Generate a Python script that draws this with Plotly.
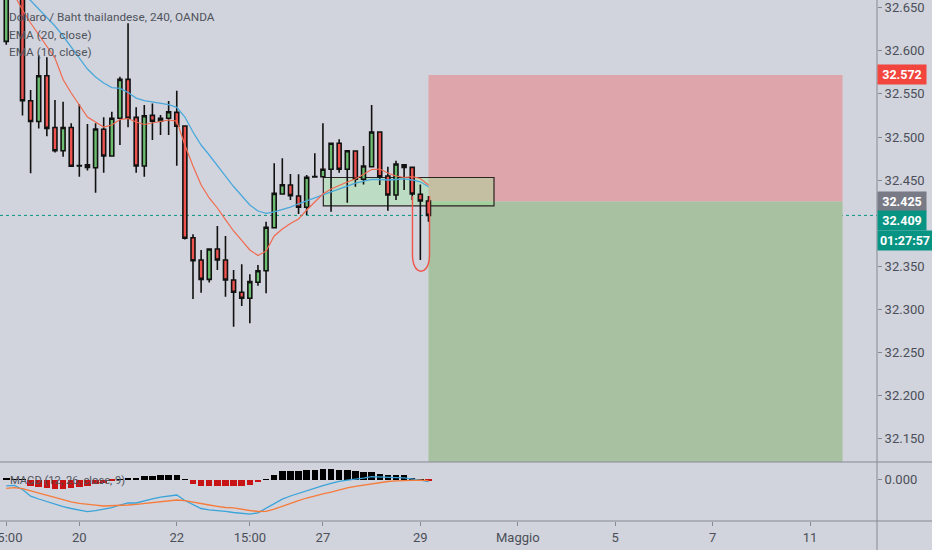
import plotly.graph_objects as go

# 4h candles, bar index 0 = 20 aprile 00:00
BAR_IDX = list(range(-9, 44))

OPEN = [32.611, 32.664, 32.676, 32.542, 32.518, 32.571, 32.511, 32.484, 32.511, 32.4665,
        32.4678, 32.4643, 32.509, 32.4779, 32.5217, 32.5669, 32.5228, 32.4663, 32.5251, 32.5185,
        32.5217, 32.5286, 32.5127, 32.3831, 32.3572, 32.3348, 32.370, 32.3572, 32.334, 32.3198,
        32.3128, 32.3314, 32.3448, 32.3947, 32.4338, 32.4443, 32.4315, 32.4184, 32.4535, 32.4539,
        32.4625, 32.4927, 32.4625, 32.4837, 32.4509, 32.4655, 32.5058, 32.4547, 32.4327, 32.4678,
        32.4648, 32.4335, 32.4257]
HIGH = [32.680, 32.690, 32.690, 32.5545, 32.595, 32.5925, 32.543, 32.541, 32.516, 32.538,
        32.515, 32.516, 32.5228, 32.5293, 32.570, 32.6319, 32.5344, 32.537, 32.539, 32.5255,
        32.5417, 32.5537, 32.5135, 32.387, 32.3688, 32.3705, 32.3967, 32.385, 32.3456, 32.3523,
        32.3407, 32.3514, 32.4017, 32.4695, 32.4752, 32.457, 32.4567, 32.4559, 32.481, 32.516,
        32.4935, 32.4973, 32.4845, 32.4840, 32.4895, 32.537, 32.5062, 32.4655, 32.4725, 32.4682,
        32.4652, 32.445, 32.4315]
LOW = [32.607, 32.661, 32.525, 32.458, 32.510, 32.501, 32.482, 32.477, 32.4655, 32.454,
       32.461, 32.4353, 32.4585, 32.4775, 32.4907, 32.5112, 32.4585, 32.454, 32.4965, 32.5023,
       32.5023, 32.4667, 32.381, 32.312, 32.3193, 32.331, 32.3456, 32.3147, 32.2798, 32.3039,
       32.2838, 32.3274, 32.3186, 32.394, 32.433, 32.4269, 32.4106, 32.4095, 32.453, 32.453,
       32.4133, 32.4585, 32.4237, 32.4423, 32.445, 32.465, 32.4443, 32.4144, 32.4269, 32.4385,
       32.4269, 32.3572, 32.4017]
CLOSE = [32.664, 32.676, 32.542, 32.518, 32.571, 32.510, 32.484, 32.511, 32.466, 32.4668,
         32.4648, 32.5093, 32.4779, 32.5217, 32.5669, 32.5217, 32.4663, 32.5247, 32.5182, 32.5217,
         32.5293, 32.5124, 32.3824, 32.3564, 32.3348, 32.370, 32.3572, 32.334, 32.3198, 32.3128,
         32.3321, 32.3448, 32.3952, 32.4346, 32.4446, 32.4319, 32.4184, 32.4532, 32.454, 32.4625,
         32.4927, 32.4625, 32.4841, 32.4509, 32.4663, 32.5058, 32.4539, 32.4327, 32.4686, 32.4648,
         32.4338, 32.4257, 32.409]

EMA20 = [32.6845, 32.6764, 32.6671, 32.6584, 32.6485, 32.6392, 32.6288, 32.6172, 32.6044, 32.5928,
         32.5789, 32.5696, 32.5626, 32.5574, 32.5565, 32.5516, 32.5452, 32.5423, 32.5406, 32.5394,
         32.5375, 32.5344, 32.5232, 32.5058, 32.4907, 32.4791, 32.4675, 32.4547, 32.4425, 32.4315,
         32.4211, 32.4141, 32.4114, 32.4130, 32.4158, 32.4187, 32.4225, 32.4257, 32.4292, 32.4327,
         32.4362, 32.4401, 32.4431, 32.4464, 32.4489, 32.4507, 32.4507, 32.4501, 32.4507, 32.4515,
         32.4501, 32.4480, 32.4423]
EMA10 = [32.6822, 32.6648, 32.6474, 32.6323, 32.6183, 32.6044, 32.5917, 32.5667, 32.5510, 32.5371,
         32.5232, 32.5174, 32.5116, 32.5139, 32.5203, 32.5214, 32.5174, 32.5145, 32.5165, 32.5180,
         32.5197, 32.5185, 32.4907, 32.4663, 32.4443, 32.4292, 32.4176, 32.4042, 32.3909, 32.3799,
         32.3689, 32.3625, 32.3677, 32.3851, 32.3932, 32.3996, 32.4048, 32.4153, 32.4246, 32.4338,
         32.4396, 32.4439, 32.4478, 32.4512, 32.4570, 32.4623, 32.4628, 32.4582, 32.4547, 32.4530,
         32.4539, 32.4518, 32.4443]

MACD = [-0.00252, -0.00232, -0.0040, -0.00668, -0.0078, -0.00884, -0.00996, -0.01084, -0.0116, -0.01228,
        -0.01288, -0.01244, -0.01188, -0.01128, -0.0102, -0.00932, -0.0094, -0.00844, -0.00772, -0.00708,
        -0.00652, -0.0062, -0.0084, -0.01012, -0.0116, -0.01212, -0.01232, -0.01276, -0.0132, -0.0136,
        -0.01388, -0.01332, -0.0114, -0.0096, -0.00784, -0.0066, -0.00552, -0.00452, -0.00356, -0.00248,
        -0.00156, -0.00072, -0.00024, 0.00008, 0.00056, 0.00112, 0.00092, 0.0008, 0.00076, 0.00064,
        0.00032, -0.00024, -0.00088]
SIGNAL = [-0.00352, -0.00324, -0.00368, -0.0046, -0.00548, -0.00636, -0.0072, -0.00808, -0.00892, -0.00952,
          -0.0100, -0.01028, -0.0106, -0.01056, -0.01048, -0.0102, -0.00992, -0.00956, -0.00924, -0.0088,
          -0.00836, -0.0082, -0.00844, -0.00912, -0.00968, -0.0102, -0.01072, -0.0112, -0.01136, -0.0120,
          -0.0124, -0.0128, -0.01272, -0.01184, -0.01064, -0.00948, -0.00844, -0.0074, -0.00644, -0.00572,
          -0.00504, -0.00416, -0.00332, -0.00272, -0.00224, -0.0016, -0.00104, -0.0008, -0.00052, -0.0004,
          -0.0002, -0.00028, -0.00044]
HIST = [0.00028, 0.0002, 0.00012, -0.0024, -0.0028, -0.00332, -0.00372, -0.00372, -0.00332, -0.00308,
        -0.0024, -0.00172, -0.00148, -0.0006, 0.0002, 0.0004, 0.0004, 0.00132, 0.0016, 0.00188,
        0.002, 0.002, 0.00012, -0.0016, -0.00252, -0.00268, -0.0026, -0.00268, -0.00268, -0.0024,
        -0.002, -0.001, 0.0002, 0.002, 0.00332, 0.00332, 0.00332, 0.004, 0.004, 0.00428,
        0.00428, 0.004, 0.004, 0.00332, 0.00308, 0.00308, 0.0024, 0.002, 0.00172, 0.00172,
        0.00068, 0.0002, -0.0004]

TICK_IDX = [-9, 0, 12, 21, 30, 42, 54, 66, 78, 90]
TICK_TEXT = ['15:00', '20', '22', '15:00', '27', '29', 'Maggio', '5', '7', '11']
PRICE_TICKS = [32.15, 32.20, 32.25, 32.30, 32.35, 32.45, 32.50, 32.55, 32.60, 32.65]

LAST_PRICE = 32.409
COUNTDOWN = '01:27:57'
ENTRY = 32.425
STOP = 32.572
TARGET = 32.10
POS_START, POS_END = 43, 94
BOX_X = (30.05, 51.07)
BOX_Y = (32.420, 32.453)

BG = '#d1d4dc'
AXIS_LINE = '#868993'
TEXT = '#4c4f59'
LEGEND_TEXT = '#50535d'
GREEN = '#6dbd70'
RED = '#ef5350'
TEAL = '#089483'

fig = go.Figure()

fig.add_trace(go.Candlestick(
    x=BAR_IDX, open=OPEN, high=HIGH, low=LOW, close=CLOSE,
    increasing=dict(fillcolor=GREEN, line=dict(color='#111111', width=1.6)),
    decreasing=dict(fillcolor=RED, line=dict(color='#111111', width=1.6)),
    xaxis='x', yaxis='y', hoverinfo='skip'))
fig.add_trace(go.Scatter(x=BAR_IDX, y=EMA20, mode='lines', line=dict(color='#4aa8dc', width=1.3),
                         xaxis='x', yaxis='y'))
fig.add_trace(go.Scatter(x=BAR_IDX, y=EMA10, mode='lines', line=dict(color='#f2694f', width=1.2),
                         xaxis='x', yaxis='y'))

# MACD pane
fig.add_trace(go.Bar(x=BAR_IDX, y=HIST, width=0.8,
                     marker=dict(color=['#000000' if h >= 0 else '#c81414' for h in HIST], line_width=0),
                     xaxis='x', yaxis='y2'))
fig.add_trace(go.Scatter(x=BAR_IDX, y=MACD, mode='lines', line=dict(color='#3aa3d9', width=1.3),
                         xaxis='x', yaxis='y2'))
fig.add_trace(go.Scatter(x=BAR_IDX, y=SIGNAL, mode='lines', line=dict(color='#f77b3a', width=1.3),
                         xaxis='x', yaxis='y2'))

PLOT_H = 521
split = (PLOT_H - 462) / PLOT_H

shapes = [
    # short position tool: stop zone and target zone
    dict(type='rect', xref='x', yref='y', x0=POS_START, x1=POS_END, y0=ENTRY, y1=STOP,
         fillcolor='rgb(222,166,170)', line_width=0, layer='below'),
    dict(type='rect', xref='x', yref='y', x0=POS_START, x1=POS_END, y0=TARGET, y1=ENTRY,
         fillcolor='rgb(168,194,161)', line_width=0, layer='below'),
    # consolidation box
    dict(type='rect', xref='x', yref='y', x0=BOX_X[0], x1=BOX_X[1], y0=BOX_Y[0], y1=BOX_Y[1],
         fillcolor='rgba(150,235,150,0.35)', line=dict(color='#2b2222', width=1.2), layer='below'),
    # last price line
    dict(type='line', xref='paper', yref='y', x0=0, x1=1, y0=LAST_PRICE, y1=LAST_PRICE,
         line=dict(color=TEAL, width=1, dash='dot'), layer='below'),
    # red U marker under the last candles
    dict(type='path', xref='x', yref='y',
         path='M 41.03,32.4315 L 41.03,32.363 C 41.03,32.338 43.13,32.338 43.13,32.363 L 43.13,32.4315',
         line=dict(color='#f0524a', width=1.4)),
    # pane frames
    dict(type='line', xref='paper', yref='paper', x0=0, x1=932 / 877, y0=split, y1=split,
         line=dict(color=AXIS_LINE, width=1)),
    dict(type='line', xref='paper', yref='paper', x0=0, x1=932 / 877, y0=0, y1=0,
         line=dict(color=AXIS_LINE, width=1)),
    dict(type='line', xref='paper', yref='paper', x0=1, x1=1, y0=-29 / PLOT_H, y1=1,
         line=dict(color=AXIS_LINE, width=1)),
]

annotations = []
legend_lines = [('Dollaro / Baht thailandese, 240, OANDA', 16.7),
                ('EMA (20, close)', 34.7), ('EMA (10, close)', 51.7)]
for txt, ypx in legend_lines:
    annotations.append(dict(text=txt, xref='paper', yref='paper', x=7 / 877, y=1 - ypx / PLOT_H,
                            xanchor='left', yanchor='middle', showarrow=False,
                            font=dict(family='Roboto', size=11.8, color=LEGEND_TEXT)))
annotations.append(dict(text='MACD (12, 26, close, 9)', xref='paper', yref='paper', x=8 / 877,
                        y=1 - 480 / PLOT_H, xanchor='left', yanchor='middle', showarrow=False,
                        font=dict(family='Roboto', size=11.2, color=LEGEND_TEXT)))

price_labels = [(f'{STOP:.3f}', STOP, 0, '#f2453d', 46),
                (f'{ENTRY:.3f}', ENTRY, 0, '#787b86', 46),
                (f'{LAST_PRICE:.3f}', LAST_PRICE, -5, TEAL, 46),
                (COUNTDOWN, LAST_PRICE, -25, TEAL, 52)]
for txt, yv, ys, col, w in price_labels:
    annotations.append(dict(text=f'<b>{txt}</b>', xref='paper', yref='y', x=1, y=yv, yshift=ys,
                            xanchor='left', yanchor='middle', showarrow=False, bgcolor=col,
                            width=w, height=17, borderpad=1, align='center',
                            font=dict(family='Roboto', size=12.5, color='white')))

fig.update_layout(
    width=932, height=550,
    margin=dict(l=0, r=55, t=0, b=29, autoexpand=False),
    plot_bgcolor=BG, paper_bgcolor=BG,
    showlegend=False, bargap=0,
    font=dict(family='Roboto', size=13, color=TEXT),
    xaxis=dict(domain=[0, 1], anchor='y2', range=[-9.77, 98.24],
               tickvals=TICK_IDX, ticktext=TICK_TEXT, ticks='outside', ticklen=4,
               tickcolor=AXIS_LINE, showgrid=False, zeroline=False, showline=False,
               ticklabeloverflow='allow', automargin=False,
               rangeslider=dict(visible=False), fixedrange=True),
    yaxis=dict(domain=[split, 1], side='right', range=[32.1228, 32.659],
               tickvals=PRICE_TICKS, tickformat='.3f', ticks='outside', ticklen=4,
               tickcolor=AXIS_LINE, showgrid=False, zeroline=False, showline=False,
               automargin=False, fixedrange=True),
    yaxis2=dict(domain=[0, split], side='right', anchor='x', range=[-0.0166, 0.007],
                tickvals=[0], tickformat='.3f', ticks='outside', ticklen=4,
                tickcolor=AXIS_LINE, showgrid=False, zeroline=False, showline=False,
                automargin=False, fixedrange=True),
    shapes=shapes,
    annotations=annotations,
)

# the page body has a default 8px margin; drop it so the chart fills the window
fig.write_html("out.html", config={'displayModeBar': False},
               post_script="document.body.style.margin = '0';")
